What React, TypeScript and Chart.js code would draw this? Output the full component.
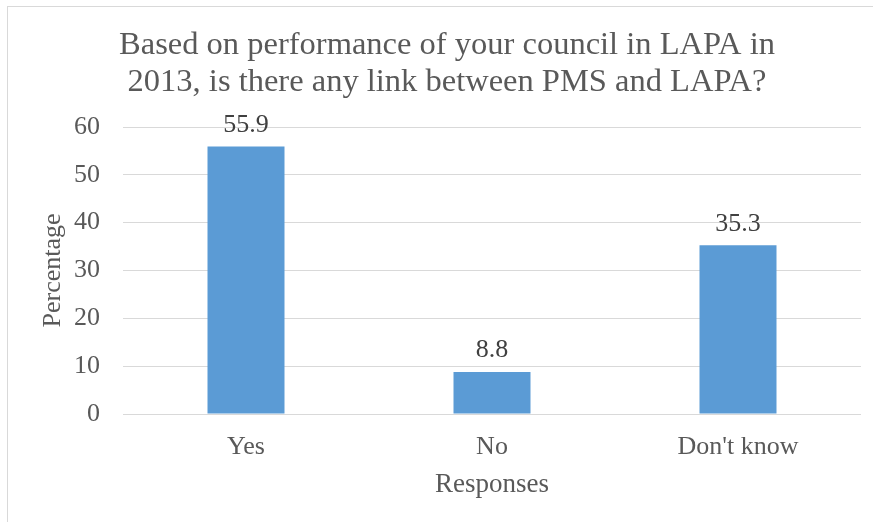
import React, { useEffect, useRef } from "react";
import { Chart, registerables } from "chart.js";

Chart.register(...registerables);

const categories = ["Yes", "No", "Don't know"];
const percentages = [55.9, 8.8, 35.3];
const titleLines = [
  "Based on performance of your council in LAPA in",
  "2013, is there any link between PMS and LAPA?",
];
const yTitle = "Percentage";
const xTitle = "Responses";

const FONT = "'Liberation Serif', 'Times New Roman', serif";

const titlePlugin = {
  id: "titleLines",
  afterDraw(chart: any) {
    const ctx = chart.ctx;
    ctx.save();
    ctx.font = `32.5px ${FONT}`;
    ctx.fillStyle = "#595959";
    ctx.textAlign = "center";
    ctx.textBaseline = "alphabetic";
    ctx.fillText(titleLines[0], 447, 54);
    ctx.fillText(titleLines[1], 447, 91);
    ctx.restore();
  },
};

const labelPlugin = {
  id: "barLabels",
  afterDatasetsDraw(chart: any) {
    const ctx = chart.ctx;
    const meta = chart.getDatasetMeta(0);
    ctx.save();
    ctx.font = `26px ${FONT}`;
    ctx.fillStyle = "#404040";
    ctx.textAlign = "center";
    ctx.textBaseline = "alphabetic";
    meta.data.forEach((bar: any, i: number) => {
      ctx.fillText(String(percentages[i]), bar.x, bar.y - 14.5);
    });
    ctx.restore();
  },
};

export default function App() {
  const ref = useRef<HTMLCanvasElement>(null);
  useEffect(() => {
    const chart = new Chart(ref.current!, {
      type: "bar",
      data: {
        labels: categories,
        datasets: [
          {
            data: percentages,
            backgroundColor: "#5b9bd5",
            borderWidth: 0,
            categoryPercentage: 1,
            barPercentage: 0.313,
          },
        ],
      },
      options: {
        animation: false,
        responsive: false,
        maintainAspectRatio: false,
        layout: { padding: { top: 127, right: 12, left: 0, bottom: 0 } },
        plugins: {
          legend: { display: false },
          tooltip: { enabled: false },
          title: { display: false },
        },
        scales: {
          x: {
            grid: { display: false, drawTicks: false },
            border: { display: false },
            ticks: {
              color: "#595959",
              font: { family: FONT, size: 26 },
              padding: 18,
              maxRotation: 0,
            },
            title: {
              display: true,
              text: xTitle,
              color: "#595959",
              font: { family: FONT, size: 27 },
              padding: { top: 0, bottom: 21 },
            },
            afterFit(scale: any) {
              scale.height = 108;
            },
          },
          y: {
            min: 0,
            max: 60,
            grid: { color: "#d9d9d9", lineWidth: 1, drawTicks: false },
            border: { display: false },
            ticks: {
              stepSize: 10,
              color: "#595959",
              font: { family: FONT, size: 26 },
              padding: 23,
            },
            title: {
              display: true,
              text: yTitle,
              color: "#595959",
              font: { family: FONT, size: 26 },
              padding: { top: 38, bottom: 0 },
            },
            afterFit(scale: any) {
              scale.width = 123;
            },
          },
        },
      },
      plugins: [titlePlugin, labelPlugin],
    });
    return () => chart.destroy();
  }, []);

  return (
    <div
      style={{
        position: "fixed",
        left: 0,
        top: 0,
        width: 873,
        height: 522,
        overflow: "hidden",
        background: "#ffffff",
      }}
    >
      <div
        style={{
          position: "absolute",
          left: 7,
          top: 6,
          width: 900,
          height: 600,
          border: "1px solid #d9d9d9",
          boxSizing: "border-box",
        }}
      />
      <canvas
        ref={ref}
        width={873}
        height={522}
        style={{ position: "absolute", left: 0, top: 0, width: 873, height: 522 }}
      />
    </div>
  );
}
